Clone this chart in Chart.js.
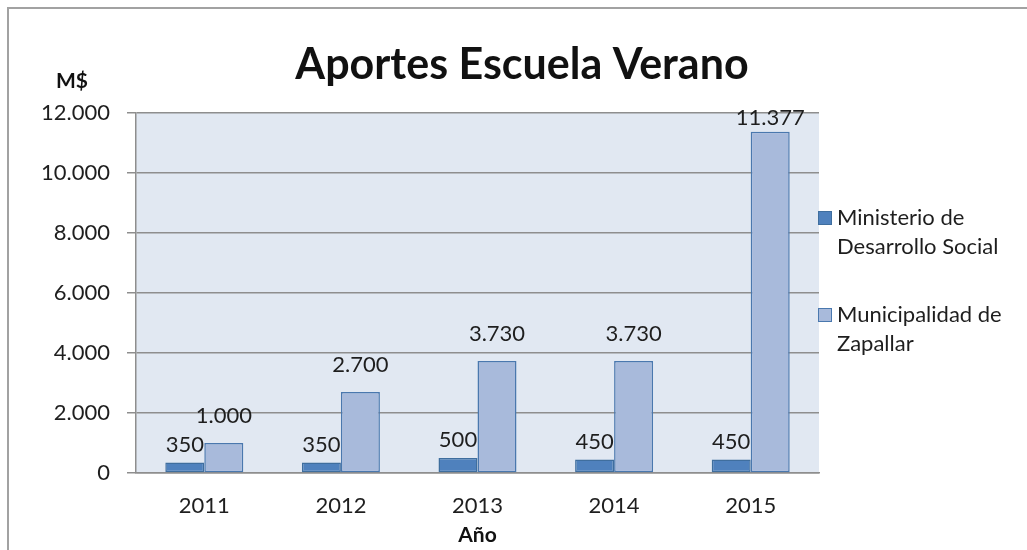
<!DOCTYPE html>
<html>
<head>
<meta charset="utf-8">
<script src="https://cdn.jsdelivr.net/npm/chart.js@4.4.1/dist/chart.umd.min.js"></script>
<style>
  html, body { margin: 0; padding: 0; background: #fff; }
  #wrap { position: relative; width: 1027px; height: 550px; }
  #frame { position: absolute; left: 7px; top: 7px; right: 0; bottom: 0;
           border-top: 2px solid #a2a2a2; border-left: 2px solid #a2a2a2; }
  canvas { position: absolute; left: 0; top: 0; }
</style>
</head>
<body>
<div id="wrap">
  <div id="frame"></div>
  <canvas id="chart" width="1027" height="550"></canvas>
</div>
<script>
// chart values
const years = ["2011", "2012", "2013", "2014", "2015"];
const ministerio = [350, 350, 500, 450, 450];
const municipalidad = [1000, 2700, 3730, 3730, 11377];
const seriesNames = [["Ministerio de", "Desarrollo Social"], ["Municipalidad de", "Zapallar"]];
const chartTitle = "Aportes Escuela Verano";
const yUnit = "M$";
const xTitle = "Año";

const FONT = "Lato, 'Open Sans', sans-serif";
const TEXT = "#1e1e1e";
const GRID = "#8e8e8e";
const colors = [
  { fill: "#4f81bd", line: "#3f6e9e" },
  { fill: "#a8badb", line: "#4a78ae" }
];

function fmt(v) {
  return String(Math.round(v)).replace(/\B(?=(\d{3})+(?!\d))/g, ".");
}

// plot background + title + unit + legend
const decor = {
  id: "decor",
  beforeDraw(chart) {
    const { ctx, chartArea: a } = chart;
    ctx.save();
    ctx.fillStyle = "#e1e8f2";
    ctx.fillRect(a.left, a.top, a.right - a.left, a.bottom - a.top);
    ctx.restore();
  },
  afterDraw(chart) {
    const { ctx } = chart;
    ctx.save();
    ctx.fillStyle = "#111";
    ctx.textBaseline = "alphabetic";
    ctx.textAlign = "center";
    ctx.font = "bold 43px " + FONT;
    ctx.fillText(chartTitle, 522, 79);
    ctx.font = "bold 21px " + FONT;
    ctx.fillText(yUnit, 72, 88);

    // legend
    const tops = [218, 315];
    ctx.textAlign = "left";
    ctx.textBaseline = "middle";
    ctx.font = "22px " + FONT;
    seriesNames.forEach((lines, i) => {
      const y = tops[i];
      ctx.fillStyle = colors[i].fill;
      ctx.fillRect(818, y - 7, 14, 14);
      ctx.strokeStyle = colors[i].line;
      ctx.lineWidth = 1;
      ctx.strokeRect(818.5, y - 6.5, 13, 13);
      ctx.fillStyle = TEXT;
      lines.forEach((t, j) => ctx.fillText(t, 837, y + j * 29));
    });
    ctx.restore();
  }
};

// value labels above bars
const barLabels = {
  id: "barLabels",
  afterDatasetsDraw(chart) {
    const { ctx, chartArea: a } = chart;
    const gaps = [11, 20];
    ctx.save();
    ctx.font = "22px " + FONT;
    ctx.fillStyle = TEXT;
    ctx.textAlign = "center";
    ctx.textBaseline = "alphabetic";
    chart.data.datasets.forEach((ds, i) => {
      chart.getDatasetMeta(i).data.forEach((bar, j) => {
        const y = Math.max(bar.y - gaps[i], a.top + 12);
        ctx.fillText(fmt(ds.data[j]), bar.x, y);
      });
    });
    ctx.restore();
  }
};

new Chart(document.getElementById("chart"), {
  type: "bar",
  data: {
    labels: years,
    datasets: [
      {
        label: seriesNames[0].join(" "),
        data: ministerio,
        backgroundColor: colors[0].fill,
        borderColor: colors[0].line,
        borderWidth: 1.5,
        borderSkipped: false
      },
      {
        label: seriesNames[1].join(" "),
        data: municipalidad,
        backgroundColor: colors[1].fill,
        borderColor: colors[1].line,
        borderWidth: 1.5,
        borderSkipped: false
      }
    ]
  },
  options: {
    responsive: false,
    animation: false,
    layout: { padding: { left: 0, right: 208, top: 113, bottom: 0 } },
    datasets: { bar: { categoryPercentage: 0.571, barPercentage: 1 } },
    plugins: {
      legend: { display: false },
      title: { display: false },
      tooltip: { enabled: false }
    },
    scales: {
      x: {
        grid: { display: false, drawTicks: false },
        border: { display: true, color: GRID, width: 1.5 },
        ticks: { font: { family: FONT, size: 22 }, color: TEXT, padding: 20 },
        title: {
          display: true,
          text: xTitle,
          font: { family: FONT, size: 21, weight: "bold" },
          color: "#111",
          padding: { top: 0, bottom: 2 }
        },
        afterFit(s) { s.height = 77; }
      },
      y: {
        min: 0,
        max: 12000,
        ticks: {
          stepSize: 2000,
          font: { family: FONT, size: 22 },
          color: TEXT,
          padding: 17,
          callback: v => fmt(v)
        },
        grid: { color: GRID, tickColor: GRID, tickLength: 9, lineWidth: 1.5 },
        border: { display: true, color: GRID, width: 1.5 },
        afterFit(s) { s.width = 136; }
      }
    }
  },
  plugins: [decor, barLabels]
});
</script>
</body>
</html>
